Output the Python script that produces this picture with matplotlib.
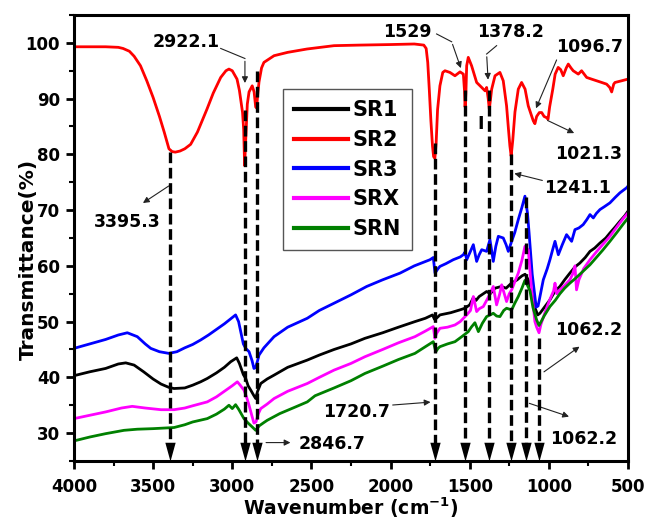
import matplotlib
matplotlib.use("Agg")
import matplotlib.pyplot as plt
from matplotlib.ticker import MultipleLocator

# ---- data (wavenumber cm-1, transmittance %) ----
sr1_wn = [4000, 3900, 3800, 3720, 3673, 3620, 3560, 3500, 3450, 3400, 3368, 3300, 3250, 3200, 3158, 3100,
          3050, 3010, 2972, 2955, 2940, 2930, 2915, 2900, 2883, 2865, 2852, 2840, 2820, 2780, 2736, 2650,
          2526, 2450, 2357, 2250, 2162, 2050, 1950, 1846, 1780, 1735, 1722, 1710, 1688, 1620, 1562, 1530,
          1500, 1477, 1460, 1440, 1393, 1370, 1340, 1300, 1270, 1240, 1200, 1170, 1150, 1130, 1110, 1088,
          1070, 1056, 1030, 993, 960, 930, 900, 867, 835, 804, 770, 740, 710, 677, 640, 614, 580, 551, 520, 500]
sr1_t = [40.3, 41.0, 41.6, 42.4, 42.6, 42.2, 41.0, 39.7, 38.8, 38.2, 38.0, 38.1, 38.6, 39.2, 39.8, 40.8,
         41.8, 42.8, 43.5, 42.5, 41.3, 40.5, 39.8, 38.5, 37.7, 36.8, 36.2, 37.5, 38.9, 39.7, 40.4, 41.8,
         43.1, 44.0, 45.0, 46.0, 47.0, 48.0, 49.0, 50.0, 50.6, 51.2, 50.4, 50.6, 51.2, 51.6, 52.1, 52.4,
         53.0, 54.3, 53.8, 54.5, 55.4, 55.0, 56.0, 56.3, 56.0, 56.8, 57.5, 58.2, 58.5, 57.5, 55.5, 52.5,
         51.2, 51.5, 52.5, 53.9, 55.5, 56.3, 57.5, 58.7, 59.8, 60.5, 61.5, 62.6, 63.2, 64.1, 65.0, 65.9,
         67.0, 68.0, 69.0, 69.8]

sr2_wn = [4000, 3900, 3800, 3720, 3690, 3650, 3620, 3580, 3540, 3500, 3460, 3430, 3400, 3380, 3360, 3330,
          3300, 3263, 3220, 3160, 3120, 3073, 3040, 3021, 3000, 2970, 2955, 2947, 2935, 2928, 2922, 2916,
          2905, 2894, 2874, 2862, 2852, 2846, 2840, 2831, 2815, 2800, 2736, 2650, 2528, 2357, 2200, 2000,
          1850, 1790, 1775, 1765, 1755, 1745, 1735, 1728, 1720, 1712, 1703, 1688, 1670, 1656, 1625, 1593,
          1561, 1540, 1533, 1529, 1524, 1519, 1509, 1488, 1456, 1424, 1403, 1393, 1383, 1376, 1368, 1361,
          1340, 1309, 1288, 1267, 1255, 1246, 1238, 1228, 1214, 1193, 1172, 1150, 1130, 1110, 1098, 1088,
          1077, 1060, 1045, 1030, 1015, 1005, 995, 975, 960, 941, 925, 909, 890, 877, 860, 846, 814, 793,
          761, 730, 698, 666, 635, 615, 603, 590, 582, 540, 500]
sr2_t = [99.3, 99.3, 99.3, 99.2, 99.0, 98.5, 97.6, 95.9, 93.2, 90.2, 86.8, 84.0, 81.0, 80.5, 80.4, 80.6,
         81.0, 81.8, 84.0, 88.1, 91.0, 93.8, 95.0, 95.3, 95.0, 93.5, 91.5, 89.9, 87.5, 84.5, 78.0, 82.0,
         89.0, 91.2, 92.3, 91.2, 88.5, 88.3, 90.5, 93.0, 95.5, 96.5, 97.7, 98.3, 98.9, 99.5, 99.6, 99.7,
         99.8, 99.6, 99.0, 96.5, 91.5, 86.0, 81.5, 79.6, 79.3, 82.0, 88.0, 92.3, 94.7, 95.0, 94.7, 94.1,
         94.8, 94.4, 91.5, 88.5, 91.0, 95.9, 97.4, 95.9, 92.9, 92.0, 91.4, 92.0, 90.0, 88.1, 90.0, 91.7,
         94.1, 94.7, 93.2, 88.7, 84.5, 81.5, 79.7, 82.5, 87.6, 91.7, 92.9, 91.7, 88.7, 87.0, 86.0, 85.5,
         86.8, 87.5, 87.5, 86.8, 86.6, 86.3, 88.5, 91.7, 94.4, 95.6, 95.2, 94.1, 95.5, 96.2, 95.5, 95.0,
         94.4, 95.0, 93.8, 93.5, 93.2, 92.9, 92.6, 92.0, 91.2, 92.6, 92.9, 93.2, 93.5]

sr3_wn = [4000, 3900, 3800, 3720, 3663, 3600, 3550, 3515, 3460, 3400, 3350, 3300, 3250, 3200, 3150, 3100,
          3050, 3010, 2979, 2960, 2945, 2930, 2915, 2894, 2875, 2863, 2852, 2840, 2831, 2800, 2736, 2650,
          2526, 2450, 2357, 2250, 2151, 2050, 1940, 1850, 1751, 1730, 1719, 1700, 1688, 1650, 1604, 1560,
          1540, 1529, 1519, 1500, 1477, 1456, 1440, 1424, 1393, 1372, 1360, 1351, 1335, 1319, 1288, 1270,
          1256, 1235, 1215, 1193, 1170, 1151, 1135, 1125, 1105, 1080, 1068, 1056, 1035, 1010, 993, 975,
          961, 940, 915, 888, 856, 835, 810, 783, 760, 740, 719, 700, 677, 650, 614, 580, 551, 509, 500]
sr3_t = [45.2, 46.0, 46.8, 47.6, 48.0, 47.3, 46.0, 45.2, 44.6, 44.3, 44.6, 45.3, 45.9, 46.7, 47.6, 48.6,
         49.6, 50.5, 51.2, 50.0, 48.0, 46.0, 45.2, 44.6, 43.0, 41.6, 41.8, 43.0, 44.0, 45.3, 47.3, 49.0,
         50.6, 52.0, 53.3, 54.8, 56.3, 57.5, 58.7, 60.0, 61.1, 61.5, 58.7, 59.5, 59.9, 60.4, 61.1, 61.6,
         62.0, 62.5, 61.1, 62.3, 63.8, 60.8, 62.0, 62.9, 62.6, 64.7, 62.5, 60.8, 63.5, 65.3, 65.0, 63.8,
         62.6, 64.4, 66.0, 68.3, 70.5, 72.5, 69.5, 66.0, 58.5, 52.6, 52.8, 54.5, 57.5, 59.5, 61.1, 63.0,
         64.4, 62.0, 63.8, 65.6, 64.4, 66.5, 66.8, 67.4, 68.3, 69.2, 68.6, 69.4, 70.1, 70.6, 71.3, 72.3,
         73.1, 74.0, 74.3]

srx_wn = [4000, 3900, 3800, 3700, 3632, 3550, 3450, 3368, 3300, 3250, 3158, 3100, 3050, 3000, 2968, 2950,
          2926, 2910, 2894, 2875, 2863, 2850, 2835, 2820, 2780, 2736, 2650, 2526, 2450, 2357, 2250, 2162,
          2050, 1950, 1846, 1780, 1730, 1720, 1709, 1688, 1640, 1593, 1560, 1519, 1495, 1477, 1456, 1440,
          1414, 1380, 1351, 1330, 1310, 1298, 1267, 1250, 1235, 1193, 1170, 1151, 1130, 1109, 1088, 1077,
          1062, 1050, 1020, 993, 970, 961, 950, 930, 900, 867, 850, 835, 825, 810, 780, 740, 700, 660,
          614, 570, 530, 500]
srx_t = [32.6, 33.2, 33.8, 34.5, 34.8, 34.5, 34.2, 34.2, 34.5, 34.9, 35.6, 36.5, 37.5, 38.5, 39.2, 38.6,
         37.7, 36.5, 35.0, 33.0, 31.8, 32.0, 33.5, 34.4, 35.2, 36.2, 37.5, 38.9, 40.0, 41.3, 42.5, 43.7,
         45.0, 46.2, 47.3, 48.3, 49.1, 47.0, 47.9, 48.8, 49.0, 49.4, 50.0, 51.2, 52.0, 54.5, 51.8, 52.3,
         52.7, 54.5, 56.3, 53.0, 55.0, 56.6, 53.6, 55.0, 55.7, 58.7, 61.0, 63.5, 62.9, 55.7, 50.0, 49.0,
         48.0, 49.5, 52.0, 54.0, 55.5, 56.9, 55.0, 55.7, 56.5, 57.5, 58.5, 60.0, 55.7, 57.5, 59.5, 61.1,
         62.5, 63.8, 65.3, 67.0, 68.5, 69.5]

srn_wn = [4000, 3900, 3800, 3684, 3600, 3500, 3368, 3300, 3250, 3158, 3100, 3050, 3021, 3000, 2979, 2960,
          2940, 2926, 2900, 2870, 2852, 2830, 2800, 2779, 2700, 2600, 2526, 2477, 2357, 2250, 2162, 2050,
          1950, 1846, 1780, 1730, 1714, 1700, 1688, 1640, 1593, 1550, 1509, 1490, 1467, 1445, 1420, 1393,
          1370, 1351, 1330, 1309, 1285, 1267, 1235, 1215, 1193, 1170, 1151, 1135, 1119, 1100, 1077, 1062,
          1056, 1030, 993, 960, 930, 900, 867, 830, 800, 770, 740, 700, 660, 614, 570, 530, 500]
srn_t = [28.6, 29.3, 29.9, 30.5, 30.7, 30.8, 31.0, 31.5, 32.0, 32.6, 33.4, 34.3, 35.0, 34.4, 35.1, 34.3,
         33.3, 32.6, 31.8, 31.0, 30.5, 31.3, 31.9, 32.3, 33.5, 34.7, 35.6, 36.7, 38.1, 39.4, 40.7, 42.0,
         43.2, 44.3, 45.5, 46.4, 44.6, 45.2, 45.5, 46.0, 46.4, 47.3, 48.2, 49.0, 49.8, 48.2, 49.7, 50.9,
         51.2, 51.5, 51.0, 50.9, 52.0, 52.4, 52.1, 53.3, 54.5, 56.0, 57.4, 56.5, 55.5, 52.5, 50.3, 49.3,
         49.6, 51.0, 52.7, 53.8, 55.0, 56.0, 56.9, 57.8, 58.6, 59.4, 60.2, 61.5, 62.8, 64.4, 66.0, 67.5,
         68.6]

names = ["SR1", "SR2", "SR3", "SRX", "SRN"]
colors = ["black", "#ff0000", "#0000ff", "#ff00ff", "#008000"]

# dashed guide lines: position and where they start (on the curve)
guide_wn = [3395.3, 2922.1, 2846.7, 1720.7, 1529, 1378.2, 1241.1, 1146, 1062.2]
guide_top = [80.5, 88.0, 95.0, 82.0, 91.5, 91.5, 80.0, 72.3, 47.0]

plt.rcParams['font.family'] = ['DejaVu Sans']
plt.rcParams['font.weight'] = 'bold'
plt.rcParams['mathtext.default'] = 'bf'

fig = plt.figure(figsize=(6.45, 5.21), dpi=100)
ax = fig.add_axes([0.1147, 0.1152, 0.8589, 0.856])

series = [(sr1_wn, sr1_t), (sr2_wn, sr2_t), (sr3_wn, sr3_t), (srx_wn, srx_t), (srn_wn, srn_t)]
for (wn, t), name, c in zip(series, names, colors):
    ax.plot(wn, t, color=c, lw=2.0, label=name)

ax.set_xlim(4000, 500)
ax.set_ylim(25, 105)
ybot = ax.get_ylim()[0]

# vertical guides with big triangle heads at the bottom
tri = [(-0.55, 2.0), (0.55, 2.0), (0.0, 0.0)]
for wn, top in zip(guide_wn, guide_top):
    ax.plot([wn, wn], [top, ybot + 3.0], color="black", lw=2.4,
            linestyle=(0, (3.2, 1.4)), zorder=5)
    ax.plot(wn, ybot, marker=tri, markersize=27, color="black",
            markeredgewidth=0, zorder=6, clip_on=False)

# peak labels
tkw = dict(fontsize=12.5, fontweight="bold", ha="center", va="center")
akw = dict(arrowstyle="-|>", lw=0.8, color="#222222", mutation_scale=9)

def label(txt, tx, ty, start, tip, corner=None):
    ax.text(tx, ty, txt, **tkw)
    if corner is not None:
        ax.plot([start[0], corner[0]], [start[1], corner[1]], color="#222222", lw=0.8)
        start = corner
    ax.annotate("", xy=tip, xytext=start, arrowprops=akw)

label("2922.1", 3292, 100.2, (3073, 99.0), (2920, 92.3), corner=(2920, 97.2))
label("3395.3", 3665, 67.9, (3387, 74.6), (3579, 71.0))
label("1529", 1896, 101.9, (1709, 101.6), (1550, 95.0), corner=(1614, 100.2))
label("1378.2", 1245, 101.9, (1330, 99.5), (1383, 92.9), corner=(1393, 98.0))
label("1096.7", 740, 99.3, (944, 97.4), (1088, 87.8))
label("1021.3", 746, 80.0, (1024, 86.3), (824, 83.6))
label("1241.1", 816, 74.0, (1024, 75.2), (1235, 76.7))
label("1062.2", 746, 48.5, (1045, 40.7), (792, 45.8))
label("1062.2", 778, 29.0, (1140, 35.5), (856, 32.8))
label("1720.7", 2218, 33.7, (2004, 35.0), (1730, 35.6))
label("2846.7", 2370, 28.05, (2804, 28.3), (2615, 28.3))
ax.text(1430, 85.4, "I", **tkw)

ax.xaxis.set_major_locator(MultipleLocator(500))
ax.xaxis.set_minor_locator(MultipleLocator(250))
ax.yaxis.set_major_locator(MultipleLocator(10))
ax.yaxis.set_minor_locator(MultipleLocator(5))
ax.set_yticks(range(30, 101, 10))
ax.tick_params(which="major", direction="out", length=6, width=2, labelsize=12)
ax.tick_params(which="minor", direction="out", length=3.5, width=1.5)
ax.tick_params(axis="x", which="major", pad=6)
ax.tick_params(axis="y", which="major", pad=4)
ax.tick_params(top=False, right=False)
for lab in ax.get_xticklabels() + ax.get_yticklabels():
    lab.set_fontweight("bold")
for s in ax.spines.values():
    s.set_linewidth(2.2)

ax.set_xlabel("Wavenumber (cm$^{-1}$)", fontsize=13.5, fontweight="bold", labelpad=0)
ax.set_ylabel("Transmittance(%)", fontsize=14.5, fontweight="bold")
ax.yaxis.set_label_coords(-0.066, 0.453)

leg = ax.legend(loc="upper left", bbox_to_anchor=(0.377, 0.834), borderaxespad=0,
                fontsize=15, handlelength=2.6, handletextpad=0.2, labelspacing=0.46,
                borderpad=0.55, fancybox=False, framealpha=1, edgecolor="#555555")
leg.get_frame().set_linewidth(1.0)
for h in leg.get_lines():
    h.set_linewidth(3)
for t in leg.get_texts():
    t.set_fontweight("bold")

fig.savefig("out.png", dpi=100)
